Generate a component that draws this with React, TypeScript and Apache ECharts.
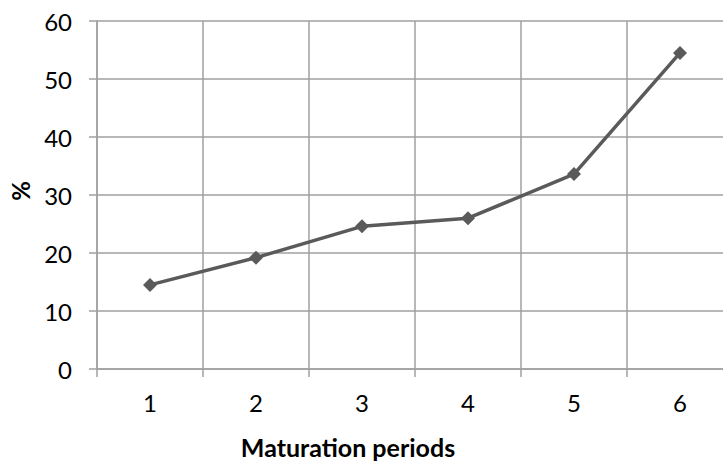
import React, { useEffect, useRef } from "react";
import * as echarts from "echarts";

const categories = ["1", "2", "3", "4", "5", "6"];
const values = [14.5, 19.2, 24.6, 26.0, 33.6, 54.5];
const yTicks = { min: 0, max: 60, interval: 10 };
const xTitle = "Maturation periods";
const yTitle = "%";

export default function App() {
  const ref = useRef<HTMLDivElement>(null);
  useEffect(() => {
    document.body.style.margin = "0";
    const chart = echarts.init(ref.current!, null, { renderer: "svg" });
    const grid = "#a0a0a0";
    chart.setOption({
      animation: false,
      backgroundColor: "#ffffff",
      grid: { left: 97, top: 21, width: 636, height: 348 },
      xAxis: {
        type: "category",
        data: categories,
        boundaryGap: true,
        axisLine: { lineStyle: { color: grid, width: 1.5 } },
        axisTick: { show: true, length: 8, lineStyle: { color: grid, width: 1.5 } },
        splitLine: { show: true, lineStyle: { color: grid, width: 1.5 } },
        axisLabel: { color: "#000", fontFamily: "Lato", fontSize: 24, margin: 21 },
      },
      yAxis: {
        type: "value",
        min: yTicks.min,
        max: yTicks.max,
        interval: yTicks.interval,
        axisLine: { show: true, lineStyle: { color: grid, width: 1.5 } },
        axisTick: { show: true, length: 8, lineStyle: { color: grid, width: 1.5 } },
        splitLine: { show: true, lineStyle: { color: grid, width: 1.5 } },
        axisLabel: { color: "#000", fontFamily: "Lato", fontSize: 24, margin: 25 },
      },
      graphic: [
        {
          type: "text",
          x: 348,
          y: 447,
          style: {
            text: xTitle,
            fill: "#000",
            font: "bold 25px Lato",
            textAlign: "center",
            textVerticalAlign: "middle",
          },
        },
        {
          type: "text",
          x: 20,
          y: 191,
          rotation: Math.PI / 2,
          style: {
            text: yTitle,
            fill: "#000",
            font: "bold 24px Lato",
            textAlign: "center",
            textVerticalAlign: "middle",
          },
        },
      ],
      series: [
        {
          type: "line",
          data: values,
          symbol: "diamond",
          symbolSize: 14,
          lineStyle: { color: "#5a5a5a", width: 3.5 },
          itemStyle: { color: "#5a5a5a" },
        },
      ],
    });
    return () => chart.dispose();
  }, []);
  return (
    <div style={{ width: 723, height: 462, overflow: "hidden", position: "relative" }}>
      <div ref={ref} style={{ width: 760, height: 462 }} />
    </div>
  );
}
